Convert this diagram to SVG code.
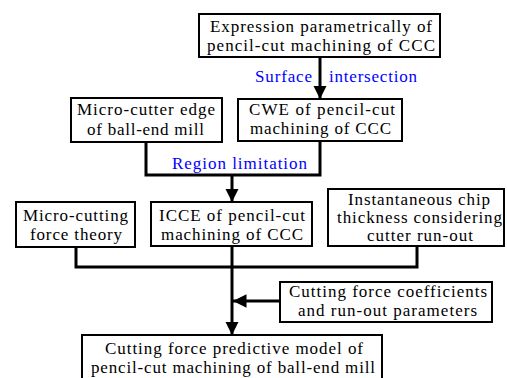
<svg xmlns="http://www.w3.org/2000/svg" width="507" height="378" viewBox="0 0 507 378" font-family="Liberation Serif, Times New Roman, DejaVu Serif, serif" font-size="17">
<defs>
<style>
.box{fill:#fff;stroke:#000;stroke-width:2}
.t{fill:#000}
.lbl{fill:#0000FF}
.c{fill:none;stroke:#000;stroke-width:3}
</style>
<marker id="ah" viewBox="0 0 10 10" refX="10" refY="5" markerWidth="4.5" markerHeight="4.5" markerUnits="strokeWidth" orient="auto">
<path d="M0,0 L10,5 L0,10 Z" fill="#000"/>
</marker>
</defs>
<rect width="507" height="378" fill="#fff"/>
<g id="connectors">
<line class="c" x1="320" y1="57" x2="320" y2="99" marker-end="url(#ah)"/>
<polyline class="c" points="146,142 146,175 320,175 320,141"/>
<line class="c" x1="232" y1="175" x2="232" y2="202" marker-end="url(#ah)"/>
<polyline class="c" points="76,247 76,267 417,267 417,246"/>
<line class="c" x1="232" y1="246" x2="232" y2="335" marker-end="url(#ah)"/>
<line class="c" x1="280" y1="301" x2="233" y2="301" marker-end="url(#ah)"/>
<text class="lbl" x="255" y="82" textLength="57" lengthAdjust="spacing">Surface</text>
<text class="lbl" x="329" y="82" textLength="88" lengthAdjust="spacing">intersection</text>
<text class="lbl" x="172" y="169" textLength="135" lengthAdjust="spacing">Region limitation</text>
</g>
<g id="n1">
<rect class="box" x="199" y="14" width="241" height="43"/>
<text class="t" x="210" y="32" textLength="222" lengthAdjust="spacing">Expression parametrically of</text>
<text class="t" x="207" y="51" textLength="228" lengthAdjust="spacing">pencil-cut machining of CCC</text>
</g>
<g id="n2">
<rect class="box" x="71" y="98" width="151" height="44"/>
<text class="t" x="77" y="115" textLength="138" lengthAdjust="spacing">Micro-cutter edge</text>
<text class="t" x="87" y="135" textLength="117" lengthAdjust="spacing">of ball-end mill</text>
</g>
<g id="n3">
<rect class="box" x="238" y="99" width="164" height="42"/>
<text class="t" x="249" y="115" textLength="146" lengthAdjust="spacing">CWE of pencil-cut</text>
<text class="t" x="250" y="134" textLength="141" lengthAdjust="spacing">machining of CCC</text>
</g>
<g id="n4">
<rect class="box" x="16" y="202" width="119" height="45"/>
<text class="t" x="23" y="221" textLength="105" lengthAdjust="spacing">Micro-cutting</text>
<text class="t" x="30" y="240" textLength="92" lengthAdjust="spacing">force theory</text>
</g>
<g id="n5">
<rect class="box" x="151" y="202" width="161" height="44"/>
<text class="t" x="159" y="221" textLength="146" lengthAdjust="spacing">ICCE of pencil-cut</text>
<text class="t" x="161" y="240" textLength="142" lengthAdjust="spacing">machining of CCC</text>
</g>
<g id="n6">
<rect class="box" x="328" y="189" width="176" height="57"/>
<text class="t" x="348" y="205" textLength="142" lengthAdjust="spacing">Instantaneous chip</text>
<text class="t" x="337" y="223" textLength="165" lengthAdjust="spacing">thickness considering</text>
<text class="t" x="367" y="241" textLength="106" lengthAdjust="spacing">cutter run-out</text>
</g>
<g id="n7">
<rect class="box" x="280" y="282" width="212" height="40"/>
<text class="t" x="289" y="297" textLength="198" lengthAdjust="spacing">Cutting force coefficients</text>
<text class="t" x="298" y="316" textLength="179" lengthAdjust="spacing">and run-out parameters</text>
</g>
<g id="n8">
<rect class="box" x="82" y="335" width="300" height="55"/>
<text class="t" x="105" y="354" textLength="258" lengthAdjust="spacing">Cutting force predictive model of</text>
<text class="t" x="91" y="373" textLength="284" lengthAdjust="spacing">pencil-cut machining of ball-end mill</text>
</g>
</svg>
